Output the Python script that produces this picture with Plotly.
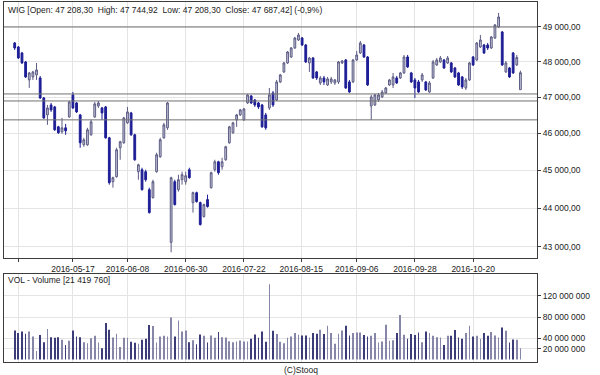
import numpy as np
import pandas as pd
import plotly.graph_objects as go

# ---------------- data ----------------
OPEN = [48537, 48421, 48249, 47992, 47482, 47567, 47624, 47538, 46977, 46506,
        46782, 46727, 46178, 46041, 46150, 46451, 47061, 46838, 46506, 45688,
        45688, 45960, 46451, 46755, 46699, 46727, 45878, 44697, 44830, 45607,
        45742, 46287, 46561, 45960, 44963, 45016, 44963, 44486, 44276, 44963,
        45364, 45878, 46150, 43115, 44697, 44486, 44750, 44697, 45016, 44145,
        44407, 44145, 43780, 44224, 44539, 45016, 45229, 45096, 45283, 45742,
        46014, 46369, 46506, 46369, 46838, 47033, 46921, 46838, 46782, 46506,
        46699, 47117, 46921, 47426, 47709, 47964, 48135, 48393, 48623, 48681,
        48479, 47964, 48106, 47709, 47398, 47538, 47341, 47426, 47398, 47426,
        47964, 48049, 47426, 47426, 48049, 48249, 48479, 48135, 46755, 46782,
        46921, 47005, 47117, 47341, 47341, 47538, 47538, 47680, 48135, 47680,
        47482, 47426, 47482, 47426, 47145, 47538, 47907, 47992, 48049, 47964,
        47964, 47822, 47680, 47567, 47257, 47482, 48135, 48049, 48421, 48479,
        48479, 48393, 48681, 49000, 48855, 47709, 47822, 48249, 47907, 47208.30]
HIGH = [48565, 48450, 48278, 48020, 47709, 47737, 47964, 47595, 47005, 46782,
        46838, 46755, 46205, 46424, 46259, 46893, 47145, 46865, 46533, 45878,
        46150, 46369, 46865, 46893, 46727, 46755, 45905, 44830, 45607, 45797,
        46451, 46727, 46589, 45987, 45176, 45069, 45016, 44539, 44750, 45472,
        45878, 46287, 46865, 44830, 44750, 44883, 44963, 44963, 45069, 44433,
        44433, 44171, 44119, 44354, 44963, 45283, 45256, 45337, 45661, 46205,
        46314, 46533, 46671, 46699, 47089, 47061, 46949, 46865, 46810, 46561,
        47257, 47173, 47482, 47652, 47992, 48306, 48421, 48710, 48826, 48710,
        48508, 48135, 48135, 47737, 47595, 47595, 47567, 47567, 47510, 48020,
        48049, 48078, 47482, 48078, 48306, 48594, 48508, 48163, 47061, 47089,
        47117, 47201, 47285, 47510, 47680, 47595, 47709, 48192, 48192, 47709,
        47538, 47482, 47680, 47454, 47454, 48049, 48106, 48163, 48078, 48163,
        47992, 47850, 47709, 47595, 47538, 47992, 48163, 48565, 48768, 48508,
        48537, 48739, 49087, 49409, 48884, 48020, 47850, 48278, 48192, 47744.92]
LOW = [48335, 48078, 47935, 47538, 47257, 47482, 47482, 46949, 46396, 46232,
       46589, 46069, 45987, 45987, 45960, 46424, 46671, 46561, 45607, 45634,
       45661, 45933, 46424, 46699, 46369, 45851, 44618, 44539, 44803, 45283,
       45715, 46259, 45933, 45256, 44750, 44460, 44697, 43858, 44250, 44936,
       45337, 45851, 46096, 42860, 44067, 44433, 44618, 44618, 44776, 43884,
       44145, 43548, 43754, 44015, 44512, 44963, 44883, 45016, 45256, 45715,
       45987, 46178, 46478, 46342, 46810, 46810, 46727, 46671, 46150, 46096,
       46644, 46727, 46893, 47398, 47680, 47935, 48106, 48364, 48594, 48450,
       47964, 47709, 47510, 47482, 47341, 47341, 47313, 47370, 47341, 47370,
       47935, 47229, 47117, 47398, 48020, 48220, 48106, 47313, 46369, 46755,
       46865, 46977, 47089, 47313, 47257, 47370, 47510, 47652, 47822, 47398,
       46977, 47117, 47426, 47173, 47117, 47510, 47879, 47964, 47794, 47935,
       47680, 47538, 47313, 47229, 47201, 47454, 47879, 48020, 48393, 48220,
       48335, 48364, 48652, 48971, 47879, 47680, 47538, 47652, 47879, 47208.30]
CLOSE = [48393, 48106, 47964, 47567, 47680, 47709, 47765, 46977, 46424, 46699,
         46644, 46096, 46014, 46150, 46069, 46865, 46699, 46589, 45742, 45824,
         46096, 46314, 46810, 46838, 46561, 45878, 44671, 44803, 45553, 45770,
         46424, 46589, 45960, 45283, 45149, 44486, 44750, 43884, 44697, 45418,
         45824, 46232, 46838, 44803, 44093, 44750, 44883, 44856, 44803, 44407,
         44171, 43573, 44093, 44041, 44936, 45229, 44936, 45229, 45634, 46178,
         46287, 46506, 46644, 46671, 47061, 46838, 46782, 46727, 46178, 46150,
         47061, 46782, 47426, 47624, 47964, 48278, 48393, 48681, 48768, 48479,
         47992, 48106, 47538, 47538, 47538, 47426, 47510, 47510, 47482, 47992,
         48020, 47257, 47145, 48049, 48192, 48537, 48135, 47341, 47005, 47061,
         47061, 47145, 47257, 47482, 47567, 47398, 47680, 48135, 47850, 47426,
         47257, 47145, 47624, 47201, 47398, 47992, 48049, 48106, 47822, 48106,
         47709, 47567, 47341, 47285, 47482, 47964, 47907, 48537, 48623, 48249,
         48393, 48710, 49058, 49292, 47907, 47964, 47567, 47680, 48121, 47687.42]
VOLUME_M = [54.9, 49.8, 53.0, 48.6, 53.0, 43.5, 16.2, 46.0, 32.7, 57.5,
            42.2, 41.0, 42.2, 37.1, 27.6, 35.2, 54.9, 43.5, 42.2, 32.7,
            30.8, 40.3, 44.8, 32.0, 21.3, 68.9, 56.2, 41.6, 48.6, 23.8,
            41.0, 41.0, 33.3, 31.4, 29.5, 37.1, 39.0, 65.0, 63.2, 32.0,
            43.5, 44.8, 43.5, 79.4, 43.5, 73.7, 53.0, 54.9, 32.7, 36.5,
            28.9, 47.3, 44.8, 32.0, 45.4, 41.0, 51.8, 42.2, 41.6, 34.6,
            32.7, 33.9, 35.8, 33.9, 33.9, 39.0, 47.3, 41.0, 53.0, 33.3,
            142.0, 54.3, 48.0, 33.3, 30.8, 41.0, 43.5, 49.8, 46.7, 45.4,
            45.4, 41.6, 49.8, 48.6, 56.2, 48.0, 63.8, 49.8, 29.5, 48.6,
            54.9, 63.8, 45.4, 49.8, 51.0, 51.0, 46.0, 43.5, 44.8, 49.8,
            32.0, 33.9, 65.7, 35.2, 36.5, 49.8, 83.8, 46.7, 39.0, 48.0,
            46.0, 51.0, 32.7, 53.0, 49.8, 44.8, 42.2, 41.6, 27.6, 44.8,
            44.8, 55.6, 41.6, 39.0, 49.8, 63.8, 43.5, 44.8, 39.0, 49.8,
            44.8, 51.8, 45.4, 41.6, 60.6, 54.3, 32.0, 37.7, 37.1, 21.41976]

HOLIDAYS = ["2016-05-03", "2016-05-26", "2016-08-15", "2016-11-01"]
TICK_DATES = ["2016-04-25", "2016-05-17", "2016-06-08", "2016-06-30", "2016-07-22",
              "2016-08-15", "2016-09-06", "2016-09-28", "2016-10-20"]
TICK_TEXT = ["", "2016-05-17", "2016-06-08", "2016-06-30", "2016-07-22",
             "2016-08-15", "2016-09-06", "2016-09-28", "2016-10-20"]
PRICE_TICKS = [43000, 44000, 45000, 46000, 47000, 48000, 49000]
PRICE_TICK_TEXT = ["43 000,00", "44 000,00", "45 000,00", "46 000,00",
                   "47 000,00", "48 000,00", "49 000,00"]
LEVELS = [49000, 47089, 46893, 46369]
VOL_TICKS = [20, 40, 80, 120]
VOL_TICK_TEXT = ["20 000 000", "40 000 000", "80 000 000", "120 000 000"]

TITLE = "WIG [Open: 47 208,30  High: 47 744,92  Low: 47 208,30  Close: 47 687,42] (-0,9%)"
VOL_TITLE = "VOL - Volume [21 419 760]"

# ---------------- build ----------------
dates = pd.bdate_range("2016-04-22", "2016-11-09")
dates = dates[~dates.isin(pd.to_datetime(HOLIDAYS))]
idx = np.arange(len(dates))
date_ord = np.array([d.toordinal() for d in dates])
tick_ord = np.array([pd.Timestamp(d).toordinal() for d in TICK_DATES])
tick_pos = np.interp(tick_ord, date_ord, idx)

XR = [-2.94, 143.56]
FONT = "Liberation Sans, Arial, sans-serif"
TXT = "#222222"
GRID = "#e4e4e4"
FRAME = "#3c3c3c"
DOWN = "#1e1e96"
UP_LINE = "#5c5c84"
UP_FILL = "#c6c6d8"

vol_colors = ["#3c3c78" if c < o else "#8686a8" for o, c in zip(OPEN, CLOSE)]

fig = go.Figure()
for lvl in LEVELS:
    fig.add_trace(go.Scatter(x=XR, y=[lvl, lvl], mode="lines",
                             line=dict(color="#707070", width=1),
                             hoverinfo="skip", showlegend=False,
                             xaxis="x", yaxis="y"))
fig.add_trace(go.Candlestick(
    x=idx, open=OPEN, high=HIGH, low=LOW, close=CLOSE,
    increasing=dict(line=dict(color=UP_LINE, width=1), fillcolor=UP_FILL),
    decreasing=dict(line=dict(color=DOWN, width=1), fillcolor=DOWN),
    whiskerwidth=0, showlegend=False, xaxis="x", yaxis="y",
    text=[d.strftime("%Y-%m-%d") for d in dates]))
fig.add_trace(go.Bar(x=idx, y=VOLUME_M, marker=dict(color=vol_colors, line=dict(width=0)),
                     width=0.2, showlegend=False, xaxis="x2", yaxis="y2"))

axis_common = dict(showline=True, mirror=True, linecolor=FRAME, linewidth=1,
                   gridcolor=GRID, gridwidth=1, zeroline=False,
                   ticks="outside", ticklen=3, tickcolor=FRAME,
                   tickfont=dict(family=FONT, size=8.5, color=TXT))

fig.update_layout(
    width=600, height=375,
    margin=dict(l=4, r=63, t=2, b=13),
    paper_bgcolor="white", plot_bgcolor="white",
    showlegend=False,
    xaxis=dict(domain=[0, 1], range=XR, anchor="y", tickmode="array",
               tickvals=list(tick_pos), ticktext=TICK_TEXT, showgrid=True,
               rangeslider=dict(visible=False), **axis_common),
    yaxis=dict(domain=[0.28889, 1], type="log", range=[4.63059, 4.69664],
               side="right", anchor="x", tickmode="array", tickvals=PRICE_TICKS,
               ticktext=PRICE_TICK_TEXT, showgrid=True, **axis_common),
    xaxis2=dict(domain=[0, 1], range=XR, anchor="y2", matches="x", tickmode="array",
                tickvals=list(tick_pos), showticklabels=False, showgrid=True,
                **{**axis_common, "ticks": ""}),
    yaxis2=dict(domain=[0, 0.24444], range=[-4.7, 161.3], side="right", anchor="x2",
                tickmode="array", tickvals=VOL_TICKS, ticktext=VOL_TICK_TEXT,
                showgrid=True, **axis_common),
    annotations=[
        dict(text=TITLE, xref="paper", yref="paper", x=0.0045, y=0.978,
             xanchor="left", yanchor="middle", showarrow=False,
             font=dict(family=FONT, size=8.5, color=TXT)),
        dict(text=VOL_TITLE, xref="paper", yref="paper", x=0.0045, y=0.228,
             xanchor="left", yanchor="middle", showarrow=False,
             font=dict(family=FONT, size=8.5, color=TXT)),
        dict(text="(C)Stooq", xref="paper", yref="paper", x=0.557, y=-0.022,
             xanchor="center", yanchor="middle", showarrow=False,
             font=dict(family=FONT, size=8.5, color=TXT)),
    ],
)

fig.write_html("out.html", config={"displayModeBar": False},
               post_script="document.body.style.margin='0px';document.body.style.overflow='hidden';")
